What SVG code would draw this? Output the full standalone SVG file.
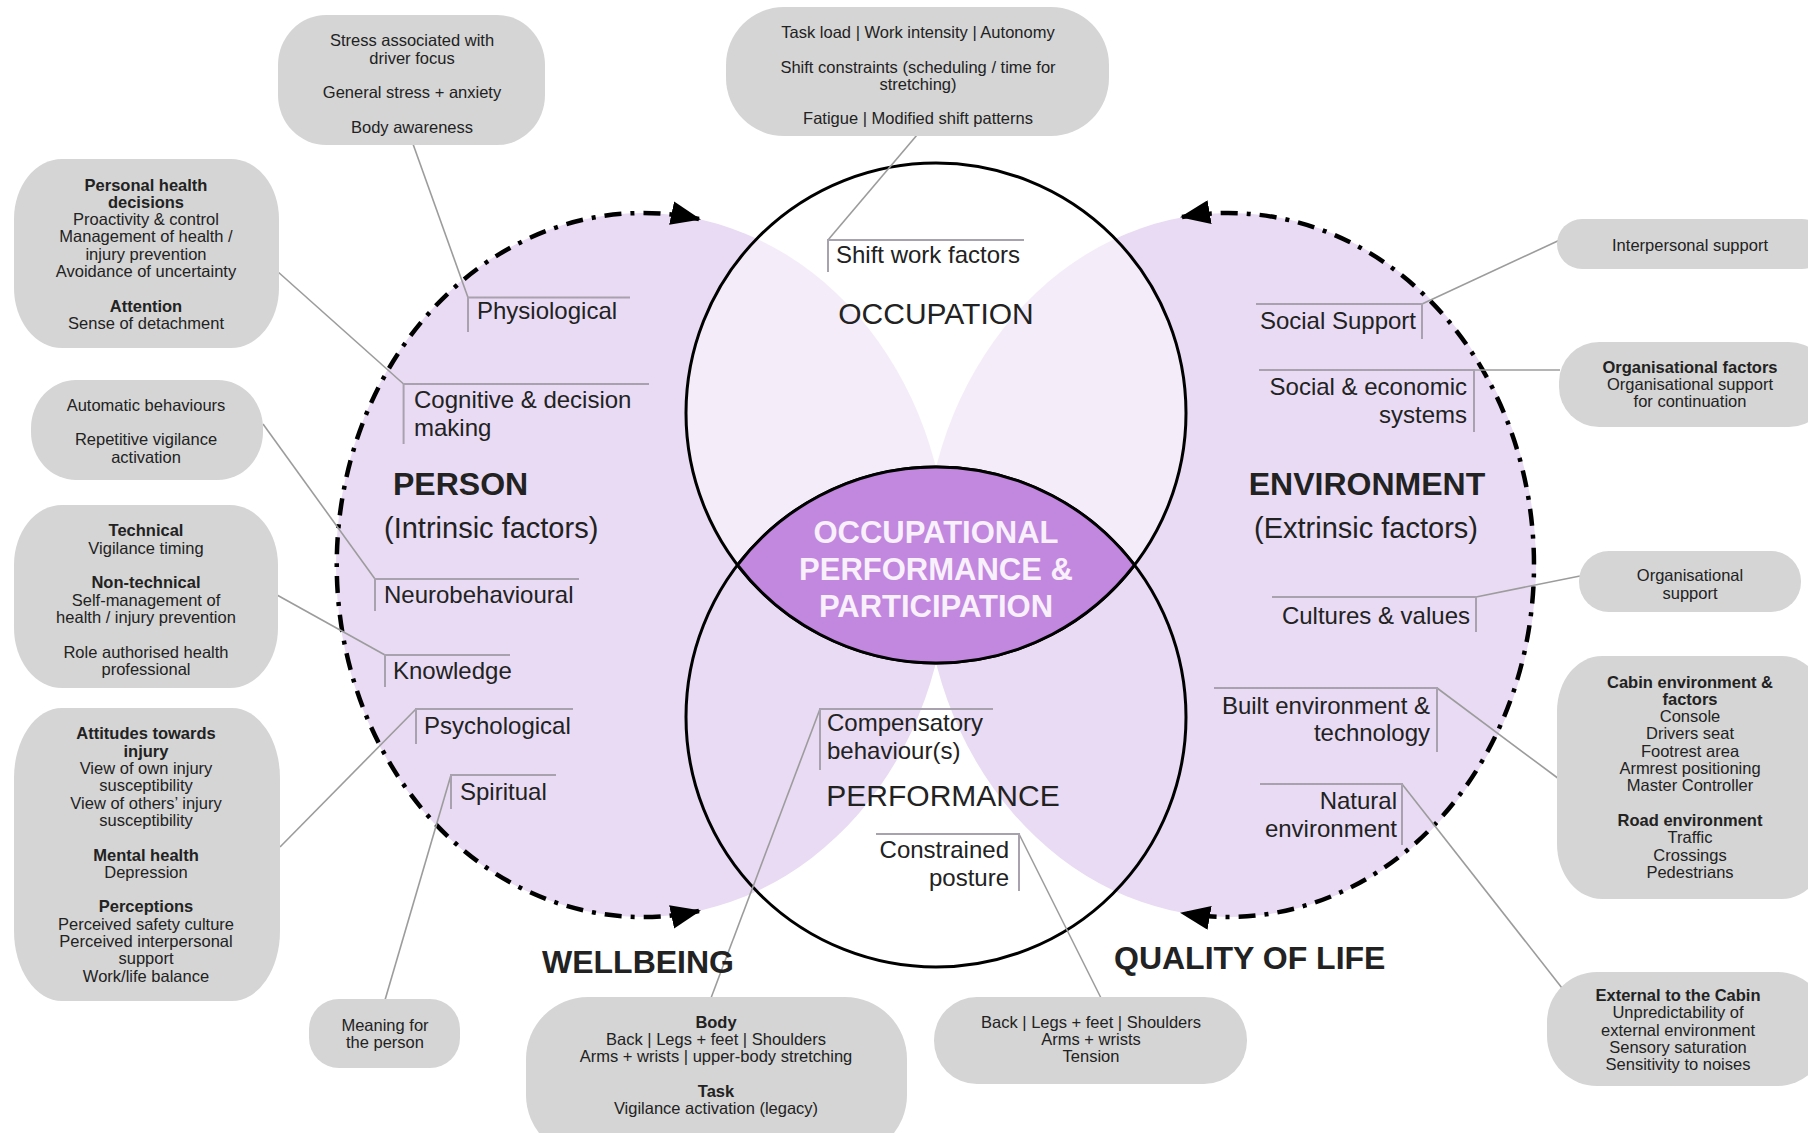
<svg xmlns="http://www.w3.org/2000/svg" width="1808" height="1133" viewBox="0 0 1808 1133">
<defs>
<style>
text{font-family:"Liberation Sans",Arial,sans-serif;fill:#222}
.box{fill:#d5d5d5}
.bt{font-size:16.5px;text-anchor:middle}
.b{font-weight:bold}
.lbl{font-size:24px}
.r{text-anchor:end}
.big{font-size:30px}
.hd{font-size:32px;font-weight:bold}
.sub{font-size:29px}
.brk{fill:none;stroke:#a8a2ae;stroke-width:2}
.lead{fill:none;stroke:#9c9c9c;stroke-width:1.6}
.dash{fill:none;stroke:#000;stroke-width:4.5;stroke-dasharray:17 9 4 9;marker-start:url(#arr);marker-end:url(#arr)}
.ring{fill:#fff;fill-opacity:0.5;stroke:none}
.ringS{fill:none;stroke:#000;stroke-width:3}
.lav{fill:#e8dbf3}
.lens{fill:#c287df;stroke:#000;stroke-width:3}
.lt{font-size:31px;font-weight:bold;fill:#f8f0fa;text-anchor:middle}
</style>
<marker id="arr" viewBox="0 0 30 24" refX="28" refY="12" markerWidth="30" markerHeight="24" markerUnits="userSpaceOnUse" orient="auto-start-reverse">
<path d="M0,0 L30,12 L0,24 Z" fill="#000"/>
</marker>
</defs>
<rect width="1808" height="1133" fill="#fff"/>

<g id="background-shapes">
<ellipse class="lav" cx="642" cy="565" rx="306" ry="352"/>
<ellipse class="lav" cx="1230" cy="565" rx="306" ry="352"/>
<circle class="ring" cx="936" cy="413" r="250"/>
</g>

<g id="occupation">
<circle class="ringS" cx="936" cy="413" r="250"/>
<text class="big" x="936" y="324" text-anchor="middle">OCCUPATION</text>
</g>
<g id="performance">
<circle class="ringS" cx="936" cy="717" r="250"/>
<text class="big" x="943" y="806" text-anchor="middle">PERFORMANCE</text>
</g>
<g id="core">
<path class="lens" d="M737.5 565 A250 250 0 0 1 1134.5 565 A250 250 0 0 1 737.5 565 Z"/>
<text class="lt" x="936" y="543">OCCUPATIONAL</text>
<text class="lt" x="936" y="580">PERFORMANCE &amp;</text>
<text class="lt" x="936" y="617">PARTICIPATION</text>
</g>

<g id="connectors">
<path class="dash" d="M699 219 A306 352 0 1 0 699 911"/>
<path class="dash" d="M1182 217 A306 352 0 1 1 1182 913"/>
<path class="lead" d="M468 297.5 L413 144"/>
<path class="lead" d="M403.6 384 L277 271"/>
<path class="lead" d="M375 579 L263 424"/>
<path class="lead" d="M385 655 L277 595"/>
<path class="lead" d="M416 709 L280 847"/>
<path class="lead" d="M451 775 L385 1000"/>
<path class="lead" d="M828 240 L917 135"/>
<path class="lead" d="M820 709 L711 998"/>
<path class="lead" d="M1019 834 L1101 998"/>
<path class="lead" d="M1422 304 L1562 239"/>
<path class="lead" d="M1474 370 L1560 370"/>
<path class="lead" d="M1476 597 L1580 576"/>
<path class="lead" d="M1437 688 L1559 779"/>
<path class="lead" d="M1402 784 L1562 988"/>
</g>

<g id="person">
<text class="hd" x="393" y="495">PERSON</text>
<text class="sub" x="384" y="538">(Intrinsic factors)</text>
</g>
<g id="environment">
<text class="hd" x="1367" y="495" text-anchor="middle">ENVIRONMENT</text>
<text class="sub" x="1366" y="538" text-anchor="middle">(Extrinsic factors)</text>
</g>
<g id="wellbeing"><text class="hd" x="542" y="973">WELLBEING</text></g>
<g id="quality-of-life"><text class="hd" x="1114" y="969">QUALITY OF LIFE</text></g>

<g id="physiological">
<path class="brk" d="M630 297.5 H468 V332"/>
<text class="lbl" x="477" y="319">Physiological</text>
</g>
<g id="cognitive">
<path class="brk" d="M649 384 H403.6 V444"/>
<text class="lbl" x="414" y="408">Cognitive &amp; decision</text>
<text class="lbl" x="414" y="436">making</text>
</g>
<g id="neurobehavioural">
<path class="brk" d="M579 579 H375 V611"/>
<text class="lbl" x="384" y="603">Neurobehavioural</text>
</g>
<g id="knowledge">
<path class="brk" d="M510 655 H385 V687"/>
<text class="lbl" x="393" y="679">Knowledge</text>
</g>
<g id="psychological">
<path class="brk" d="M573 709 H416 V744"/>
<text class="lbl" x="424" y="734">Psychological</text>
</g>
<g id="spiritual">
<path class="brk" d="M556 775 H451 V809"/>
<text class="lbl" x="460" y="800">Spiritual</text>
</g>
<g id="shift-work">
<path class="brk" d="M1024 240 H828 V272"/>
<text class="lbl" x="836" y="263">Shift work factors</text>
</g>
<g id="compensatory">
<path class="brk" d="M993 709 H820 V770"/>
<text class="lbl" x="827" y="731">Compensatory</text>
<text class="lbl" x="827" y="759">behaviour(s)</text>
</g>
<g id="constrained">
<path class="brk" d="M876 834 H1019 V891"/>
<text class="lbl r" x="1009" y="858">Constrained</text>
<text class="lbl r" x="1009" y="886">posture</text>
</g>
<g id="social-support">
<path class="brk" d="M1256 304 H1422 V339"/>
<text class="lbl r" x="1416" y="329">Social Support</text>
</g>
<g id="social-economic">
<path class="brk" d="M1259 370 H1474 V432"/>
<text class="lbl r" x="1467" y="395">Social &amp; economic</text>
<text class="lbl r" x="1467" y="423">systems</text>
</g>
<g id="cultures">
<path class="brk" d="M1272 597 H1476 V632"/>
<text class="lbl r" x="1470" y="624">Cultures &amp; values</text>
</g>
<g id="built-env">
<path class="brk" d="M1214 688 H1437 V752"/>
<text class="lbl r" x="1430" y="714">Built environment &amp;</text>
<text class="lbl r" x="1430" y="741">technology</text>
</g>
<g id="natural-env">
<path class="brk" d="M1260 784 H1402 V845"/>
<text class="lbl r" x="1397" y="809">Natural</text>
<text class="lbl r" x="1397" y="837">environment</text>
</g>

<g id="box-stress">
<rect class="box" x="278" y="15" width="267" height="130" rx="48" ry="50"/>
<text class="bt" x="412" y="46">Stress associated with</text>
<text class="bt" x="412" y="64">driver focus</text>
<text class="bt" x="412" y="98">General stress + anxiety</text>
<text class="bt" x="412" y="133">Body awareness</text>
</g>
<g id="box-task">
<rect class="box" x="726" y="7" width="383" height="129" rx="58" ry="58"/>
<text class="bt" x="918" y="38">Task load | Work intensity | Autonomy</text>
<text class="bt" x="918" y="73">Shift constraints (scheduling / time for</text>
<text class="bt" x="918" y="90">stretching)</text>
<text class="bt" x="918" y="124">Fatigue | Modified shift patterns</text>
</g>
<g id="box-personal">
<rect class="box" x="14" y="159" width="265" height="189" rx="48" ry="60"/>
<text class="bt b" x="146" y="190.5">Personal health</text>
<text class="bt b" x="146" y="207.8">decisions</text>
<text class="bt" x="146" y="225.1">Proactivity &amp; control</text>
<text class="bt" x="146" y="242.4">Management of health /</text>
<text class="bt" x="146" y="259.7">injury prevention</text>
<text class="bt" x="146" y="277">Avoidance of uncertainty</text>
<text class="bt b" x="146" y="311.6">Attention</text>
<text class="bt" x="146" y="328.9">Sense of detachment</text>
</g>
<g id="box-automatic">
<rect class="box" x="31" y="380" width="232" height="100" rx="45" ry="48"/>
<text class="bt" x="146" y="410.7">Automatic behaviours</text>
<text class="bt" x="146" y="445.3">Repetitive vigilance</text>
<text class="bt" x="146" y="462.6">activation</text>
</g>
<g id="box-technical">
<rect class="box" x="14" y="505" width="264" height="183" rx="48" ry="60"/>
<text class="bt b" x="146" y="536.4">Technical</text>
<text class="bt" x="146" y="553.7">Vigilance timing</text>
<text class="bt b" x="146" y="588.3">Non-technical</text>
<text class="bt" x="146" y="605.6">Self-management of</text>
<text class="bt" x="146" y="622.9">health / injury prevention</text>
<text class="bt" x="146" y="657.5">Role authorised health</text>
<text class="bt" x="146" y="674.8">professional</text>
</g>
<g id="box-attitudes">
<rect class="box" x="14" y="708" width="266" height="293" rx="48" ry="70"/>
<text class="bt b" x="146" y="739.4">Attitudes towards</text>
<text class="bt b" x="146" y="756.7">injury</text>
<text class="bt" x="146" y="774">View of own injury</text>
<text class="bt" x="146" y="791.3">susceptibility</text>
<text class="bt" x="146" y="808.6">View of others’ injury</text>
<text class="bt" x="146" y="825.9">susceptibility</text>
<text class="bt b" x="146" y="860.5">Mental health</text>
<text class="bt" x="146" y="877.8">Depression</text>
<text class="bt b" x="146" y="912.4">Perceptions</text>
<text class="bt" x="146" y="929.7">Perceived safety culture</text>
<text class="bt" x="146" y="947">Perceived interpersonal</text>
<text class="bt" x="146" y="964.3">support</text>
<text class="bt" x="146" y="981.6">Work/life balance</text>
</g>
<g id="box-meaning">
<rect class="box" x="309" y="999" width="151" height="69" rx="30" ry="30"/>
<text class="bt" x="385" y="1031">Meaning for</text>
<text class="bt" x="385" y="1048">the person</text>
</g>
<g id="box-body">
<rect class="box" x="526" y="997" width="381" height="160" rx="62" ry="62"/>
<text class="bt b" x="716" y="1027.6">Body</text>
<text class="bt" x="716" y="1044.9">Back | Legs + feet | Shoulders</text>
<text class="bt" x="716" y="1062.2">Arms + wrists | upper-body stretching</text>
<text class="bt b" x="716" y="1096.8">Task</text>
<text class="bt" x="716" y="1114.1">Vigilance activation (legacy)</text>
</g>
<g id="box-back">
<rect class="box" x="934" y="997" width="313" height="87" rx="43" ry="43"/>
<text class="bt" x="1091" y="1027.6">Back | Legs + feet | Shoulders</text>
<text class="bt" x="1091" y="1044.9">Arms + wrists</text>
<text class="bt" x="1091" y="1062.2">Tension</text>
</g>
<g id="box-interpersonal">
<rect class="box" x="1557" y="219" width="270" height="50" rx="25" ry="25"/>
<text class="bt" x="1690" y="250.5">Interpersonal support</text>
</g>
<g id="box-org-factors">
<rect class="box" x="1559" y="342" width="270" height="85" rx="40" ry="40"/>
<text class="bt b" x="1690" y="372.7">Organisational factors</text>
<text class="bt" x="1690" y="390">Organisational support</text>
<text class="bt" x="1690" y="407.3">for continuation</text>
</g>
<g id="box-org-support">
<rect class="box" x="1579" y="551" width="222" height="61" rx="30" ry="30"/>
<text class="bt" x="1690" y="581.4">Organisational</text>
<text class="bt" x="1690" y="598.7">support</text>
</g>
<g id="box-cabin">
<rect class="box" x="1557" y="656" width="270" height="243" rx="45" ry="55"/>
<text class="bt b" x="1690" y="687.5">Cabin environment &amp;</text>
<text class="bt b" x="1690" y="704.8">factors</text>
<text class="bt" x="1690" y="722.1">Console</text>
<text class="bt" x="1690" y="739.4">Drivers seat</text>
<text class="bt" x="1690" y="756.7">Footrest area</text>
<text class="bt" x="1690" y="774">Armrest positioning</text>
<text class="bt" x="1690" y="791.3">Master Controller</text>
<text class="bt b" x="1690" y="825.9">Road environment</text>
<text class="bt" x="1690" y="843.2">Traffic</text>
<text class="bt" x="1690" y="860.5">Crossings</text>
<text class="bt" x="1690" y="877.8">Pedestrians</text>
</g>
<g id="box-external">
<rect class="box" x="1547" y="972" width="280" height="114" rx="50" ry="50"/>
<text class="bt b" x="1678" y="1001">External to the Cabin</text>
<text class="bt" x="1678" y="1018.4">Unpredictability of</text>
<text class="bt" x="1678" y="1035.7">external environment</text>
<text class="bt" x="1678" y="1053">Sensory saturation</text>
<text class="bt" x="1678" y="1070.3">Sensitivity to noises</text>
</g>
</svg>
